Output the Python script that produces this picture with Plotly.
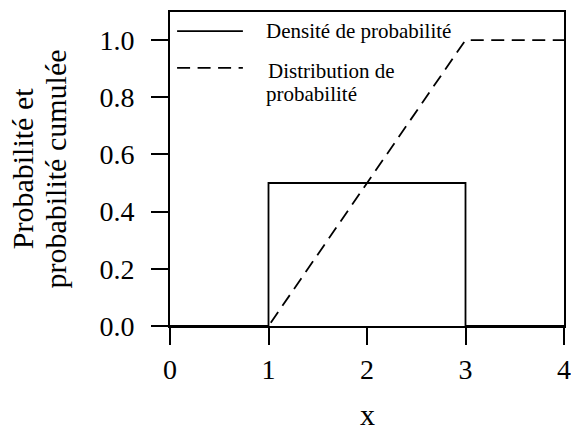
import plotly.graph_objects as go

# Uniform distribution on [1, 3]
density_x = [0, 1, 1, 3, 3, 4]
density_y = [0, 0, 0.5, 0.5, 0, 0]
cdf_x = [0, 1, 3, 4]
cdf_y = [0, 0, 1, 1]

x_ticks = [0, 1, 2, 3, 4]
y_ticks = [0.0, 0.2, 0.4, 0.6, 0.8, 1.0]
y_tick_labels = ["0.0", "0.2", "0.4", "0.6", "0.8", "1.0"]

legend_labels = ["Densité de probabilité", "Distribution de", "probabilité"]
y_title_lines = ["Probabilité et", "probabilité cumulée"]
x_title = "x"

FONT = "Liberation Serif"
DASH = "13px,7.5px"
LW = 1.8

fig = go.Figure()
fig.add_trace(go.Scatter(x=density_x, y=density_y, mode="lines",
                         line=dict(color="black", width=LW),
                         name=legend_labels[0], showlegend=False))
fig.add_trace(go.Scatter(x=cdf_x, y=cdf_y, mode="lines",
                         line=dict(color="black", width=LW, dash=DASH),
                         name="Distribution de probabilité", showlegend=False))

# Hand-drawn legend in the upper-left corner of the plot area
fig.add_shape(type="line", xref="paper", yref="paper",
              x0=0.018, x1=0.185, y0=0.939, y1=0.939,
              line=dict(color="black", width=LW))
fig.add_shape(type="line", xref="paper", yref="paper",
              x0=0.018, x1=0.185, y0=0.822, y1=0.822,
              line=dict(color="black", width=LW, dash=DASH))
for text, xp, yp in [(legend_labels[0], 0.238, 0.939),
                     (legend_labels[1], 0.243, 0.812),
                     (legend_labels[2], 0.238, 0.738)]:
    fig.add_annotation(text=text, xref="paper", yref="paper", x=xp, y=yp,
                       xanchor="left", yanchor="middle", showarrow=False,
                       font=dict(family=FONT, size=21, color="black"))

# Two-line y-axis title, set with tight line spacing
for text, xp in [(y_title_lines[0], -0.375), (y_title_lines[1], -0.293)]:
    fig.add_annotation(text=text, xref="paper", yref="paper", x=xp, y=0.5,
                       xanchor="center", yanchor="middle", textangle=-90,
                       showarrow=False,
                       font=dict(family=FONT, size=30, color="black"))

# x-axis title below the tick labels, kept inside the page
fig.add_annotation(text=x_title, xref="paper", yref="paper", x=0.5, y=-0.340,
                   xanchor="center", yanchor="bottom", showarrow=False,
                   font=dict(family=FONT, size=30, color="black"))

fig.update_xaxes(range=[0, 4], tickvals=x_ticks, ticks="outside", ticklen=17,
                 tickwidth=LW, tickcolor="black", showline=True, linecolor="black",
                 linewidth=LW, mirror=True, showgrid=False, zeroline=False,
                 automargin=False,
                 tickfont=dict(family=FONT, size=28, color="black"),
                 ticklabelstandoff=0)
fig.update_yaxes(range=[0, 1.098], tickvals=y_ticks, ticktext=y_tick_labels,
                 ticks="outside", ticklen=17, tickwidth=LW, tickcolor="black",
                 showline=True, linecolor="black", linewidth=LW, mirror=True,
                 showgrid=False, zeroline=False, automargin=False,
                 tickfont=dict(family=FONT, size=28, color="black"),
                 ticklabelstandoff=11)

fig.update_layout(width=571, height=434,
                  margin=dict(l=170, r=7, t=12, b=108),
                  paper_bgcolor="white", plot_bgcolor="white",
                  font=dict(family=FONT, color="black"))

fig.write_html("out.html")
